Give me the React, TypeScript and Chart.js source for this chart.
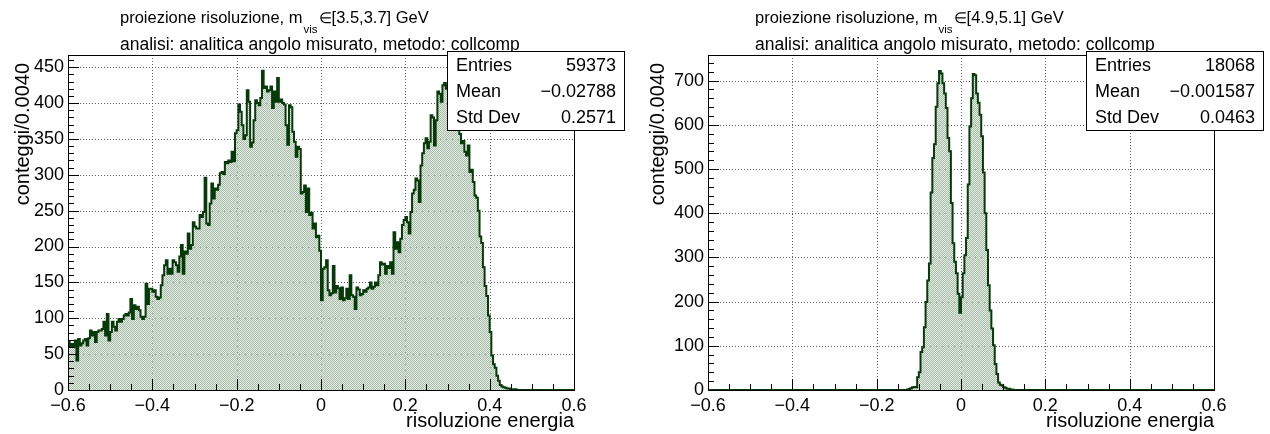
import React, { useEffect, useRef } from "react";
import { Chart, registerables } from "chart.js";

Chart.register(...registerables);

// Histogram binning: 300 bins of width 0.004 on [-0.6, 0.6]
const BIN_LOW = -0.6;
const BIN_WIDTH = 0.004;

const xMajorTicks = [-0.6, -0.4, -0.2, 0, 0.2, 0.4, 0.6];
const leftYTicks = [0, 50, 100, 150, 200, 250, 300, 350, 400, 450];
const rightYTicks = [0, 100, 200, 300, 400, 500, 600, 700];

// m_vis in [3.5, 3.7] GeV
const leftCounts = [
  53, 67, 61, 64, 60, 69, 41, 71, 62, 65, 69, 71, 62, 72, 83, 76, 81, 67, 81, 83,
  83, 85, 95, 76, 106, 69, 81, 95, 88, 83, 95, 99, 95, 99, 104, 106, 104, 108, 127, 99,
  118, 113, 116, 111, 102, 99, 102, 148, 120, 141, 141, 137, 139, 130, 127, 129, 146, 160, 174, 181,
  162, 169, 162, 181, 178, 174, 165, 186, 202, 162, 193, 190, 218, 197, 202, 234, 228, 225, 225, 244,
  241, 248, 296, 232, 230, 260, 288, 267, 281, 279, 286, 302, 304, 301, 318, 316, 320, 318, 332, 319,
  358, 362, 398, 388, 369, 350, 355, 418, 402, 339, 345, 376, 404, 400, 397, 407, 445, 421, 423, 416,
  418, 423, 393, 416, 402, 435, 402, 405, 400, 398, 369, 342, 397, 394, 360, 346, 325, 339, 336, 274,
  276, 285, 248, 281, 244, 247, 225, 232, 213, 215, 194, 125, 169, 171, 181, 139, 132, 135, 173, 136,
  145, 142, 127, 143, 125, 128, 141, 127, 160, 132, 130, 113, 143, 140, 132, 134, 139, 137, 141, 143,
  150, 141, 144, 150, 146, 160, 178, 175, 176, 162, 173, 170, 178, 162, 220, 197, 206, 192, 211, 230,
  237, 241, 234, 218, 248, 274, 279, 295, 292, 262, 313, 330, 344, 351, 337, 346, 383, 380, 341, 376,
  416, 413, 402, 425, 428, 420, 425, 430, 418, 410, 400, 405, 390, 357, 344, 347, 332, 327, 341, 304,
  307, 290, 271, 268, 250, 214, 205, 171, 145, 131, 104, 81, 48, 36, 31, 20, 13, 7, 5, 4,
  3, 2, 2, 1, 1, 1, 1, 0, 0, 0, 0, 0, 0, 0, 0, 0, 0, 0, 0, 0,
  0, 0, 0, 0, 0, 0, 0, 0, 0, 0, 0, 0, 0, 0, 0, 0, 0, 0, 0, 0,
];

// m_vis in [4.9, 5.1] GeV
const rightCounts = [
  0, 0, 0, 0, 0, 0, 0, 0, 0, 0, 0, 0, 0, 0, 0, 0, 0, 0, 0, 0,
  0, 0, 0, 0, 0, 0, 0, 0, 0, 0, 0, 0, 0, 0, 0, 0, 0, 0, 0, 0,
  0, 0, 0, 0, 0, 0, 0, 0, 0, 0, 0, 0, 0, 0, 0, 0, 0, 0, 0, 0,
  0, 0, 0, 0, 0, 0, 0, 0, 0, 0, 0, 0, 0, 0, 0, 0, 0, 0, 0, 0,
  0, 0, 0, 0, 0, 0, 0, 0, 0, 0, 0, 0, 0, 0, 0, 0, 0, 0, 0, 0,
  0, 0, 0, 0, 0, 0, 0, 0, 0, 0, 0, 0, 0, 0, 0, 0, 0, 0, 0, 1,
  2, 4, 6, 7, 6, 29, 40, 86, 97, 142, 199, 248, 286, 447, 525, 556, 641, 694, 722, 716,
  694, 671, 638, 570, 540, 423, 332, 290, 264, 218, 175, 210, 264, 305, 344, 465, 596, 660, 715, 712,
  671, 650, 623, 574, 492, 400, 317, 237, 180, 139, 101, 59, 36, 17, 12, 10, 6, 5, 3, 3,
  1, 1, 0, 0, 0, 0, 0, 0, 0, 0, 0, 0, 0, 0, 0, 0, 0, 0, 0, 0,
  0, 0, 0, 0, 0, 0, 0, 0, 0, 0, 0, 0, 0, 0, 0, 0, 0, 0, 0, 0,
  0, 0, 0, 0, 0, 0, 0, 0, 0, 0, 0, 0, 0, 0, 0, 0, 0, 0, 0, 0,
  0, 0, 0, 0, 0, 0, 0, 0, 0, 0, 0, 0, 0, 0, 0, 0, 0, 0, 0, 0,
  0, 0, 0, 0, 0, 0, 0, 0, 0, 0, 0, 0, 0, 0, 0, 0, 0, 0, 0, 0,
  0, 0, 0, 0, 0, 0, 0, 0, 0, 0, 0, 0, 0, 0, 0, 0, 0, 0, 0, 0,
];

const statLabels = ["Entries", "Mean", "Std Dev"];
const leftStatValues = ["59373", "\u22120.02788", "0.2571"];
const rightStatValues = ["18068", "\u22120.001587", "0.0463"];

const titleMain = "proiezione risoluzione, m";
const titleSub = "vis";
const titleElem = "\u2208";
const leftMassRange = "[3.5,3.7] GeV";
const rightMassRange = "[4.9,5.1] GeV";
const titleLine2 = "analisi: analitica angolo misurato, metodo: collcomp";
const yTitle = "conteggi/0.0040";
const xTitle = "risoluzione energia";

const FONT = '"Liberation Sans", Arial, Helvetica, sans-serif';
const PANEL_W = 635;
const PANEL_H = 434;
const LINE_COLOR = "#073a09";

type Frame = { left: number; right: number; top: number; bottom: number };
type Box = { left: number; right: number; top: number; bottom: number };

type PanelProps = {
  counts: number[];
  yTicks: number[];
  yMax: number;
  yMinorStep: number;
  massRange: string;
  statValues: string[];
  frame: Frame;
  box: Box;
};

function fmtX(v: number): string {
  const r = Number(v.toFixed(1));
  if (r === 0) return "0";
  return r < 0 ? "\u2212" + String(Math.abs(r)) : String(r);
}

// Fine dotted hatch used as the histogram fill
function makeFillPattern(ctx: CanvasRenderingContext2D): CanvasPattern | string {
  const pc = document.createElement("canvas");
  pc.width = 2;
  pc.height = 2;
  const p = pc.getContext("2d");
  if (!p) return "rgba(170,190,170,0.6)";
  p.fillStyle = "rgb(166,188,166)";
  p.fillRect(0, 0, 1, 1);
  p.fillRect(1, 1, 1, 1);
  p.fillStyle = "rgba(212,224,212,0.6)";
  p.fillRect(1, 0, 1, 1);
  p.fillRect(0, 1, 1, 1);
  return ctx.createPattern(pc, "repeat") || "rgba(170,190,170,0.6)";
}

function HistPanel(props: PanelProps) {
  const ref = useRef<HTMLCanvasElement | null>(null);

  useEffect(() => {
    const canvas = ref.current;
    if (!canvas) return;
    const ctx2d = canvas.getContext("2d");
    if (!ctx2d) return;
    const { counts, yTicks, yMax, yMinorStep, massRange, statValues, frame, box } = props;

    const points = counts.map((c, i) => ({ x: BIN_LOW + i * BIN_WIDTH, y: c }));
    points.push({ x: BIN_LOW + counts.length * BIN_WIDTH, y: counts[counts.length - 1] });

    const rootStyle = {
      id: "rootStyle",
      beforeDatasetsDraw(chart: any) {
        const { ctx, chartArea } = chart;
        const xs = chart.scales.x;
        const ys = chart.scales.y;
        ctx.save();
        ctx.strokeStyle = "rgba(70,70,70,0.85)";
        ctx.lineWidth = 1;
        ctx.setLineDash([1, 2]);
        for (const v of xMajorTicks) {
          const px = Math.round(xs.getPixelForValue(v)) + 0.5;
          if (px <= chartArea.left + 1 || px >= chartArea.right - 1) continue;
          ctx.beginPath();
          ctx.moveTo(px, chartArea.top);
          ctx.lineTo(px, chartArea.bottom);
          ctx.stroke();
        }
        for (const v of yTicks) {
          const py = Math.round(ys.getPixelForValue(v)) + 0.5;
          if (py >= chartArea.bottom - 1) continue;
          ctx.beginPath();
          ctx.moveTo(chartArea.left, py);
          ctx.lineTo(chartArea.right, py);
          ctx.stroke();
        }
        ctx.restore();
      },
      afterDatasetsDraw(chart: any) {
        const { ctx, chartArea } = chart;
        const xs = chart.scales.x;
        const ys = chart.scales.y;
        ctx.save();
        ctx.strokeStyle = "#000";
        ctx.lineWidth = 1;
        // x ticks: major every 0.2, minor every 0.05
        for (let k = 0; k <= 24; k++) {
          const v = -0.6 + k * 0.05;
          const px = Math.round(xs.getPixelForValue(v)) + 0.5;
          const len = k % 4 === 0 ? 11 : 6;
          ctx.beginPath();
          ctx.moveTo(px, chartArea.bottom);
          ctx.lineTo(px, chartArea.bottom - len);
          ctx.stroke();
        }
        // y ticks: major from the tick list, minor subdivisions
        const yStep = yTicks[1] - yTicks[0];
        for (let v = 0; v <= yMax + 1e-9; v += yMinorStep) {
          const py = Math.round(ys.getPixelForValue(v)) + 0.5;
          const major = Math.abs(v / yStep - Math.round(v / yStep)) < 1e-6;
          const len = major ? 11 : 6;
          ctx.beginPath();
          ctx.moveTo(chartArea.left, py);
          ctx.lineTo(chartArea.left + len, py);
          ctx.stroke();
        }
        // frame
        ctx.strokeRect(
          Math.round(chartArea.left) + 0.5,
          Math.round(chartArea.top) + 0.5,
          Math.round(chartArea.right - chartArea.left),
          Math.round(chartArea.bottom - chartArea.top)
        );
        ctx.restore();
      },
      afterDraw(chart: any) {
        const { ctx, chartArea } = chart;
        ctx.save();
        ctx.fillStyle = "#000";
        ctx.textBaseline = "alphabetic";
        // title, two lines
        ctx.textAlign = "left";
        const tx = 120;
        let cx = tx;
        ctx.font = `16.5px ${FONT}`;
        ctx.fillText(titleMain, cx, 23);
        cx += ctx.measureText(titleMain).width + 1;
        ctx.font = `11.5px ${FONT}`;
        ctx.fillText(titleSub, cx, 33);
        cx += ctx.measureText(titleSub).width + 1;
        ctx.font = `15px ${FONT}`;
        ctx.fillText(titleElem, cx, 23);
        cx += ctx.measureText(titleElem).width;
        ctx.font = `16.5px ${FONT}`;
        ctx.fillText(massRange, cx, 23);
        ctx.font = `17.5px ${FONT}`;
        ctx.fillText(titleLine2, tx, 49.5);

        // axis titles
        ctx.font = `20px ${FONT}`;
        ctx.textAlign = "right";
        ctx.fillText(xTitle, chartArea.right, 427);
        ctx.save();
        ctx.translate(29, chartArea.top + 8);
        ctx.rotate(-Math.PI / 2);
        ctx.textAlign = "right";
        ctx.textBaseline = "alphabetic";
        ctx.fillText(yTitle, 0, 0);
        ctx.restore();

        // statistics box
        ctx.fillStyle = "#fff";
        ctx.fillRect(box.left, box.top, box.right - box.left, box.bottom - box.top);
        ctx.strokeStyle = "#000";
        ctx.lineWidth = 1;
        ctx.strokeRect(box.left + 0.5, box.top + 0.5, box.right - box.left, box.bottom - box.top);
        ctx.fillStyle = "#000";
        ctx.font = `18px ${FONT}`;
        const rowH = (box.bottom - box.top) / statLabels.length;
        statLabels.forEach((lab, i) => {
          const by = box.top + rowH * (i + 0.5) + 6.5;
          ctx.textAlign = "left";
          ctx.fillText(lab, box.left + 9, by);
          ctx.textAlign = "right";
          ctx.fillText(statValues[i], box.right - 8, by);
        });
        ctx.restore();
      },
    };

    const chart = new Chart(ctx2d, {
      type: "line",
      data: {
        datasets: [
          {
            data: points,
            stepped: "after",
            fill: "origin",
            backgroundColor: makeFillPattern(ctx2d),
            borderColor: LINE_COLOR,
            borderWidth: 2,
            pointRadius: 0,
            tension: 0,
          },
        ],
      },
      options: {
        animation: false,
        responsive: false,
        events: [],
        layout: {
          padding: { top: frame.top, right: PANEL_W - frame.right, left: 0, bottom: 0 },
        },
        plugins: {
          legend: { display: false },
          tooltip: { enabled: false },
          title: { display: false },
        },
        scales: {
          x: {
            type: "linear",
            min: -0.6,
            max: 0.6,
            grid: { display: false, drawTicks: false },
            border: { display: false },
            afterFit: (s: any) => {
              s.height = PANEL_H - frame.bottom;
            },
            afterBuildTicks: (s: any) => {
              s.ticks = xMajorTicks.map((v) => ({ value: v }));
            },
            ticks: {
              autoSkip: false,
              maxRotation: 0,
              padding: 5,
              color: "#000",
              font: { family: FONT, size: 18 },
              callback: (v: any) => fmtX(Number(v)),
            },
          },
          y: {
            type: "linear",
            min: 0,
            max: yMax,
            grid: { display: false, drawTicks: false },
            border: { display: false },
            afterFit: (s: any) => {
              s.width = frame.left;
            },
            afterBuildTicks: (s: any) => {
              s.ticks = yTicks.map((v) => ({ value: v }));
            },
            ticks: {
              autoSkip: false,
              padding: 4,
              color: "#000",
              font: { family: FONT, size: 18 },
              callback: (v: any) => String(v),
            },
          },
        },
      },
      plugins: [rootStyle],
    } as any);

    return () => chart.destroy();
  }, []);

  return <canvas ref={ref} width={PANEL_W} height={PANEL_H} style={{ display: "block" }} />;
}

export default function App() {
  return (
    <div
      style={{
        position: "fixed",
        left: 0,
        top: 0,
        width: 1270,
        height: 434,
        display: "flex",
        background: "#fff",
      }}
    >
      <HistPanel
        counts={leftCounts}
        yTicks={leftYTicks}
        yMax={467}
        yMinorStep={10}
        massRange={leftMassRange}
        statValues={leftStatValues}
        frame={{ left: 68, right: 574, top: 55, bottom: 390 }}
        box={{ left: 447, right: 624, top: 51, bottom: 130 }}
      />
      <HistPanel
        counts={rightCounts}
        yTicks={rightYTicks}
        yMax={758}
        yMinorStep={20}
        massRange={rightMassRange}
        statValues={rightStatValues}
        frame={{ left: 73, right: 579, top: 55, bottom: 390 }}
        box={{ left: 451, right: 628, top: 51, bottom: 130 }}
      />
    </div>
  );
}
